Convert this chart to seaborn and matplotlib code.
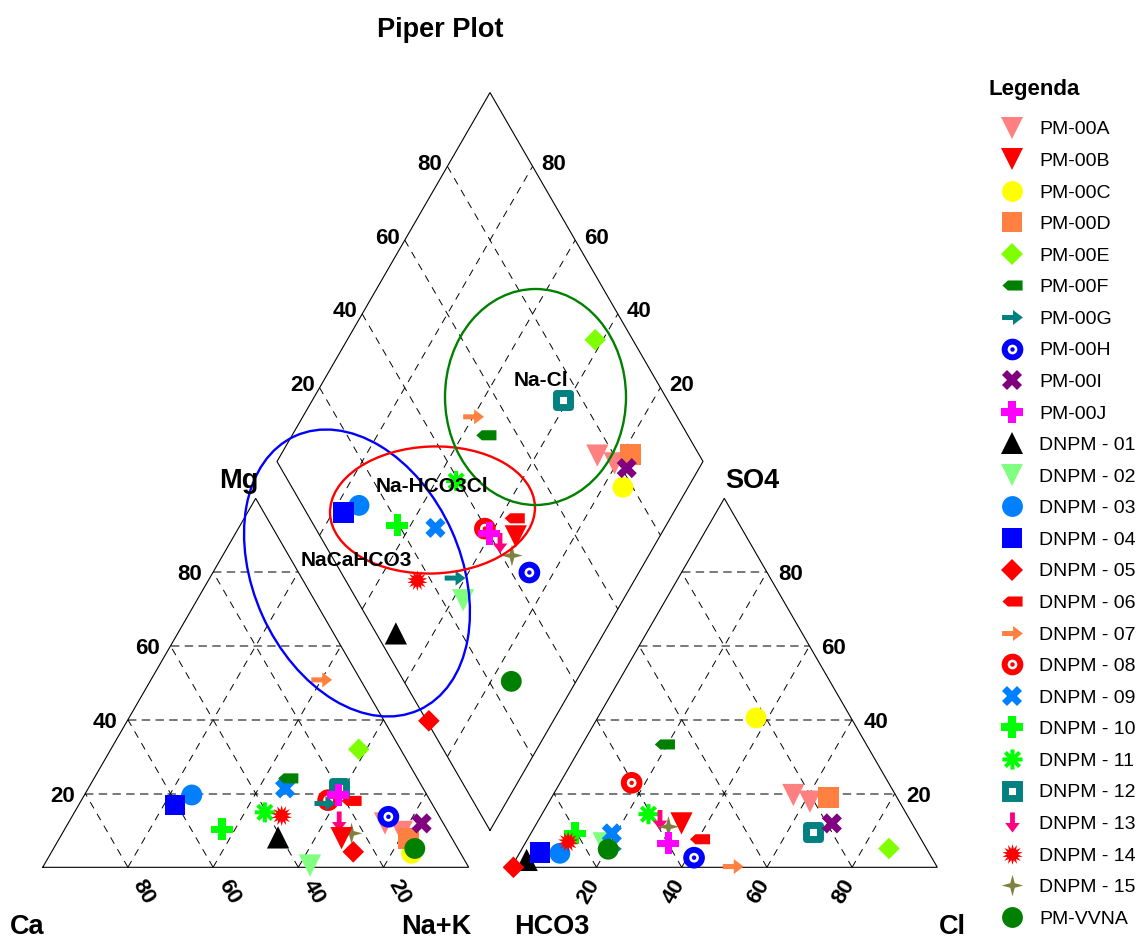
import numpy as np
import pandas as pd
import matplotlib
matplotlib.use("Agg")
import matplotlib.pyplot as plt
import seaborn as sns
from matplotlib.path import Path
from matplotlib.patches import Ellipse
from matplotlib.lines import Line2D

sns.set_theme(style="white")
plt.rcParams["font.family"] = ["Liberation Sans", "DejaVu Sans"]
plt.rcParams["text.color"] = "black"

# ---------------------------------------------------------------------------
# Sample chemistry, % of total meq/L
# ---------------------------------------------------------------------------
samples = ["PM-00A", "PM-00A", "PM-00B", "PM-00C", "PM-00D", "PM-00E", "PM-00F",
           "PM-00G", "PM-00H", "PM-00I", "PM-00J",
           "DNPM - 01", "DNPM - 02", "DNPM - 03", "DNPM - 04", "DNPM - 05",
           "DNPM - 06", "DNPM - 07", "DNPM - 08", "DNPM - 09", "DNPM - 10",
           "DNPM - 11", "DNPM - 12", "DNPM - 13", "DNPM - 14", "DNPM - 15",
           "PM-VVNA"]
ca = [13.7, 10.9, 25.9, 11.5, 10.2, 9.8, 30.3, 25.1, 12.0, 5.1, 20.8,
      40.7, 37.0, 55.2, 60.5, 25.0, 18.5, 9.1, 23.9, 32.4, 52.8,
      40.4, 19.7, 24.2, 36.9, 22.9, 10.1]
mg = [11.9, 9.6, 7.9, 3.8, 7.9, 32.0, 24.1, 17.3, 13.7, 11.9, 19.6,
      8.1, 0.5, 19.6, 16.9, 4.2, 18.0, 50.8, 18.2, 21.4, 10.3,
      14.9, 21.4, 12.4, 14.0, 9.2, 5.1]
na_k = [74.4, 79.5, 66.2, 84.7, 81.9, 58.2, 45.6, 57.6, 74.3, 83.0, 59.6,
        51.2, 62.5, 25.2, 22.6, 70.8, 63.5, 40.1, 57.9, 46.2, 36.9,
        44.7, 58.9, 63.4, 49.1, 67.9, 84.8]
hco3 = [24.0, 21.0, 54.1, 22.3, 16.1, 8.8, 47.3, 74.0, 55.8, 18.8, 59.9,
        95.4, 75.1, 86.7, 91.2, 99.5, 51.9, 47.8, 60.3, 71.8, 80.4,
        60.6, 24.4, 58.7, 83.2, 57.6, 74.8]
so4 = [19.6, 17.8, 11.9, 40.5, 19.0, 5.1, 33.3, 5.0, 2.6, 11.9, 6.5,
       2.0, 6.5, 3.8, 4.1, 0.0, 7.6, 0.2, 22.9, 9.2, 9.2,
       14.4, 9.6, 12.8, 6.9, 11.0, 4.9]
cl = [56.4, 61.2, 34.0, 37.2, 64.9, 86.1, 19.4, 21.0, 41.6, 69.3, 33.6,
      2.6, 18.4, 9.5, 4.7, 0.5, 40.5, 52.0, 16.8, 19.0, 10.4,
      25.0, 66.0, 28.5, 9.9, 31.4, 20.3]

legend_names = ["PM-00A", "PM-00B", "PM-00C", "PM-00D", "PM-00E", "PM-00F",
                "PM-00G", "PM-00H", "PM-00I", "PM-00J",
                "DNPM - 01", "DNPM - 02", "DNPM - 03", "DNPM - 04", "DNPM - 05",
                "DNPM - 06", "DNPM - 07", "DNPM - 08", "DNPM - 09", "DNPM - 10",
                "DNPM - 11", "DNPM - 12", "DNPM - 13", "DNPM - 14", "DNPM - 15",
                "PM-VVNA"]
tick_values = [20, 40, 60, 80]

# ---------------------------------------------------------------------------
# Piper geometry: unit-side triangles separated by a gap of 0.1
# ---------------------------------------------------------------------------
H = np.sqrt(3) / 2
GAP = 0.1
PX = 426.0              # pixels per unit side
X0, Y0 = 42.7, 867.3    # pixel location of the Ca corner
W_PX, H_PX = 1139, 940


def cation_xy(c_ca, c_mg, c_na):
    t = c_ca + c_mg + c_na
    return (c_na + 0.5 * c_mg) / t, H * c_mg / t


def anion_xy(a_hco3, a_so4, a_cl):
    t = a_hco3 + a_so4 + a_cl
    return 1 + GAP + (a_cl + 0.5 * a_so4) / t, H * a_so4 / t


def diamond_xy(p_na, p_so4cl):
    a, b = p_na / 100.0, p_so4cl / 100.0
    return 1 + GAP / 2 - 0.5 * (1 - a) + 0.5 * b, H * (GAP + (1 - a) + b)


def at_px(xp, yp):
    return (xp - X0) / PX, (Y0 - yp) / PX


def shift(pt, dx, dy):
    return pt[0] + dx / PX, pt[1] - dy / PX


# ---------------------------------------------------------------------------
# Marker styles
# ---------------------------------------------------------------------------
def arrow_path(direction="right"):
    v = np.array([(-1, -0.24), (0.05, -0.24), (0.05, -0.72), (1, 0),
                  (0.05, 0.72), (0.05, 0.24), (-1, 0.24), (-1, -0.24)])
    if direction == "down":
        v = np.column_stack([v[:, 1], -v[:, 0]])
    return Path(v, closed=True)


def asterisk_path(n=8, w=0.2):
    r_in = w / np.sin(np.pi / n)
    verts = []
    for k in range(n):
        t = np.pi / 2 + 2 * np.pi * k / n
        c, s = np.cos(t), np.sin(t)
        verts.append((c + w * s, s - w * c))
        verts.append((c - w * s, s + w * c))
        tm = t + np.pi / n
        verts.append((r_in * np.cos(tm), r_in * np.sin(tm)))
    verts.append(verts[0])
    return Path(verts, closed=True)


FLAG = Path([(-1, 0), (-0.45, 0.5), (1, 0.5), (1, -0.5), (-0.45, -0.5), (-1, 0)],
            closed=True)
ARROW_R = arrow_path("right")
ARROW_D = arrow_path("down")
ASTER = asterisk_path()
BURST = Path.unit_regular_star(14, 0.55)
STAR4 = Path.unit_regular_star(4, 0.3)


def bullseye(col):
    return [("o", 15.6, col, "none", 0), ("o", 7.0, "white", "none", 0),
            ("o", 3.2, col, "none", 0)]


STYLE = {
    "PM-00A": [("v", 16, "#FF8080", "none", 0)],
    "PM-00B": [("v", 16, "#FF0000", "none", 0)],
    "PM-00C": [("o", 15, "#FFFF00", "none", 0)],
    "PM-00D": [("s", 15, "#FF8040", "none", 0)],
    "PM-00E": [("D", 11, "#80FF00", "none", 0)],
    "PM-00F": [(FLAG, 14.5, "#008000", "none", 0)],
    "PM-00G": [(ARROW_R, 15, "#008080", "none", 0)],
    "PM-00H": bullseye("#0000FF"),
    "PM-00I": [("X", 14.5, "#800080", "none", 0)],
    "PM-00J": [("P", 16, "#FF00FF", "none", 0)],
    "DNPM - 01": [("^", 16, "#000000", "none", 0)],
    "DNPM - 02": [("v", 16, "#80FF80", "none", 0)],
    "DNPM - 03": [("o", 15, "#0080FF", "none", 0)],
    "DNPM - 04": [("s", 15, "#0000FF", "none", 0)],
    "DNPM - 05": [("D", 11, "#FF0000", "none", 0)],
    "DNPM - 06": [(FLAG, 14.5, "#FF0000", "none", 0)],
    "DNPM - 07": [(ARROW_R, 15, "#FF8040", "none", 0)],
    "DNPM - 08": bullseye("#FF0000"),
    "DNPM - 09": [("X", 14.5, "#0080FF", "none", 0)],
    "DNPM - 10": [("P", 16, "#00FF00", "none", 0)],
    "DNPM - 11": [(ASTER, 14.5, "#00FF00", "none", 0)],
    "DNPM - 12": [("s", 9.9, "white", "#008080", 5)],
    "DNPM - 13": [(ARROW_D, 14.5, "#FF0080", "none", 0)],
    "DNPM - 14": [(BURST, 15, "#FF0000", "none", 0)],
    "DNPM - 15": [(STAR4, 15.5, "#808040", "none", 0)],
    "PM-VVNA": [("o", 15, "#008000", "none", 0)],
}

# ---------------------------------------------------------------------------
# Projected coordinates for the three panels
# ---------------------------------------------------------------------------
rows = []
for i, name in enumerate(samples):
    cx, cy = cation_xy(ca[i], mg[i], na_k[i])
    axx, ayy = anion_xy(hco3[i], so4[i], cl[i])
    na_pct = 100 * na_k[i] / (ca[i] + mg[i] + na_k[i])
    sc_pct = 100 * (so4[i] + cl[i]) / (hco3[i] + so4[i] + cl[i])
    dx, dy = diamond_xy(na_pct, sc_pct)
    rows += [dict(sample=name, panel="cation", x=cx, y=cy),
             dict(sample=name, panel="anion", x=axx, y=ayy),
             dict(sample=name, panel="diamond", x=dx, y=dy)]
points = pd.DataFrame(rows)

fig = plt.figure(figsize=(W_PX / 100, H_PX / 100), dpi=100)
ax = fig.add_axes([0, 0, 1, 1])
ax.set_axis_off()

edge_kw = dict(color="black", lw=0.8, zorder=2, solid_joinstyle="miter")
hgrid_kw = dict(color="#555555", lw=1.1, ls=(0, (5.5, 3.5)), zorder=1)
ogrid_kw = dict(color="black", lw=0.7, ls=(0, (7.5, 6.5)), zorder=1)


def seg(p, q, **kw):
    ax.plot([p[0], q[0]], [p[1], q[1]], **kw)


# outlines
tri_l = [cation_xy(100, 0, 0), cation_xy(0, 0, 100), cation_xy(0, 100, 0), cation_xy(100, 0, 0)]
tri_r = [anion_xy(100, 0, 0), anion_xy(0, 0, 100), anion_xy(0, 100, 0), anion_xy(100, 0, 0)]
dia = [diamond_xy(100, 0), diamond_xy(0, 0), diamond_xy(0, 100), diamond_xy(100, 100),
       diamond_xy(100, 0)]
for shape in (tri_l, tri_r, dia):
    xs, ys = zip(*shape)
    ax.plot(xs, ys, **edge_kw)

# grid lines
for v in tick_values:
    w = 100 - v
    seg(cation_xy(w, v, 0), cation_xy(0, v, w), **hgrid_kw)
    seg(cation_xy(v, 0, w), cation_xy(v, w, 0), **ogrid_kw)
    seg(cation_xy(w, 0, v), cation_xy(0, w, v), **ogrid_kw)
    seg(anion_xy(w, v, 0), anion_xy(0, v, w), **hgrid_kw)
    seg(anion_xy(w, 0, v), anion_xy(0, w, v), **ogrid_kw)
    seg(anion_xy(v, 0, w), anion_xy(v, w, 0), **ogrid_kw)
    seg(diamond_xy(v, 0), diamond_xy(v, 100), **ogrid_kw)
    seg(diamond_xy(0, v), diamond_xy(100, v), **ogrid_kw)

# tick labels
tick_kw = dict(fontsize=16, fontweight="bold", color="black", zorder=6)
for v in tick_values:
    w = 100 - v
    ax.text(*shift(cation_xy(w, v, 0), -23, 8), str(v), ha="center", va="baseline", **tick_kw)
    ax.text(*shift(cation_xy(v, 0, w), 15.5, 25), str(v), ha="center", va="center",
            rotation=-60, rotation_mode="anchor", **tick_kw)
    ax.text(*shift(anion_xy(w, 0, v), -8, 24.5), str(v), ha="center", va="center",
            rotation=60, rotation_mode="anchor", **tick_kw)
    ax.text(*shift(anion_xy(0, v, w), 24, 8), str(v), ha="center", va="baseline", **tick_kw)
    ax.text(*shift(diamond_xy(0, v), -17.4, 3.5), str(v), ha="center", va="baseline", **tick_kw)
    ax.text(*shift(diamond_xy(w, 100), 21.4, 3.5), str(v), ha="center", va="baseline", **tick_kw)

# sample markers (DNPM wells first, then PM wells, PM-VVNA on top)
draw_order = ([n for n in legend_names if n.startswith("DNPM")] +
              [n for n in legend_names if n.startswith("PM-00")] + ["PM-VVNA"])
for k, name in enumerate(draw_order):
    sub = points[points["sample"] == name]
    for j, (mk, ms, face, edge, lw) in enumerate(STYLE[name]):
        sns.scatterplot(data=sub, x="x", y="y", marker=mk, s=ms ** 2, color=face,
                        edgecolor=edge, linewidth=lw, legend=False, ax=ax,
                        zorder=3 + 0.01 * k + 0.001 * j)

# hydrochemical facies envelopes
ax.add_patch(Ellipse(at_px(357, 573), 300.6 / PX, 207.4 / PX, angle=-65.7,
                     fill=False, ec="#0000FF", lw=1.7, zorder=4))
ax.add_patch(Ellipse(at_px(432.5, 510), 205 / PX, 127 / PX, angle=2,
                     fill=False, ec="#FF0000", lw=1.7, zorder=4))
ax.add_patch(Ellipse(at_px(535.5, 397), 181 / PX, 216 / PX, angle=0,
                     fill=False, ec="#008000", lw=1.7, zorder=4))

zone_kw = dict(fontsize=15, fontweight="bold", color="black", ha="center",
               va="baseline", zorder=6)
ax.text(*at_px(541, 385.7), "Na-Cl", **zone_kw)
ax.text(*at_px(431.7, 492.5), "Na-HCO3Cl", **zone_kw)
ax.text(*at_px(356, 565.8), "NaCaHCO3", **zone_kw)

# corner names and title
lab_kw = dict(fontsize=19.5, fontweight="bold", color="black", ha="center",
              va="baseline", zorder=6)
ax.text(*at_px(27, 934), "Ca", **lab_kw)
ax.text(*at_px(436.5, 934), "Na+K", **lab_kw)
ax.text(*at_px(551.5, 934), "HCO3", **lab_kw)
ax.text(*at_px(952, 934), "Cl", **lab_kw)
ax.text(*at_px(238.5, 488), "Mg", **lab_kw)
ax.text(*at_px(752.5, 488), "SO4", **lab_kw)
ax.text(*at_px(440.5, 37), "Piper Plot", **lab_kw)

# legend
ax.text(*at_px(988, 95), "Legenda", fontsize=16, fontweight="bold", color="black",
        ha="left", va="baseline", zorder=6)


def legend_handle(name):
    parts = [Line2D([], [], ls="none", marker=mk, markersize=ms, markerfacecolor=face,
                    markeredgecolor=edge, markeredgewidth=lw)
             for mk, ms, face, edge, lw in STYLE[name]]
    return parts[0] if len(parts) == 1 else tuple(parts)


leg = fig.legend(handles=[legend_handle(n) for n in legend_names], labels=legend_names,
                 loc="upper left", bbox_to_anchor=(996.2 / W_PX, 1 - 120.8 / H_PX),
                 frameon=False, fontsize=14, handlelength=1.6, handletextpad=0.6,
                 labelspacing=0.718, borderpad=0, borderaxespad=0, numpoints=1)
for t in leg.get_texts():
    t.set_color("black")

ax.set_xlim(-X0 / PX, (W_PX - X0) / PX)
ax.set_ylim((Y0 - H_PX) / PX, Y0 / PX)
fig.savefig("out.png", dpi=100)
